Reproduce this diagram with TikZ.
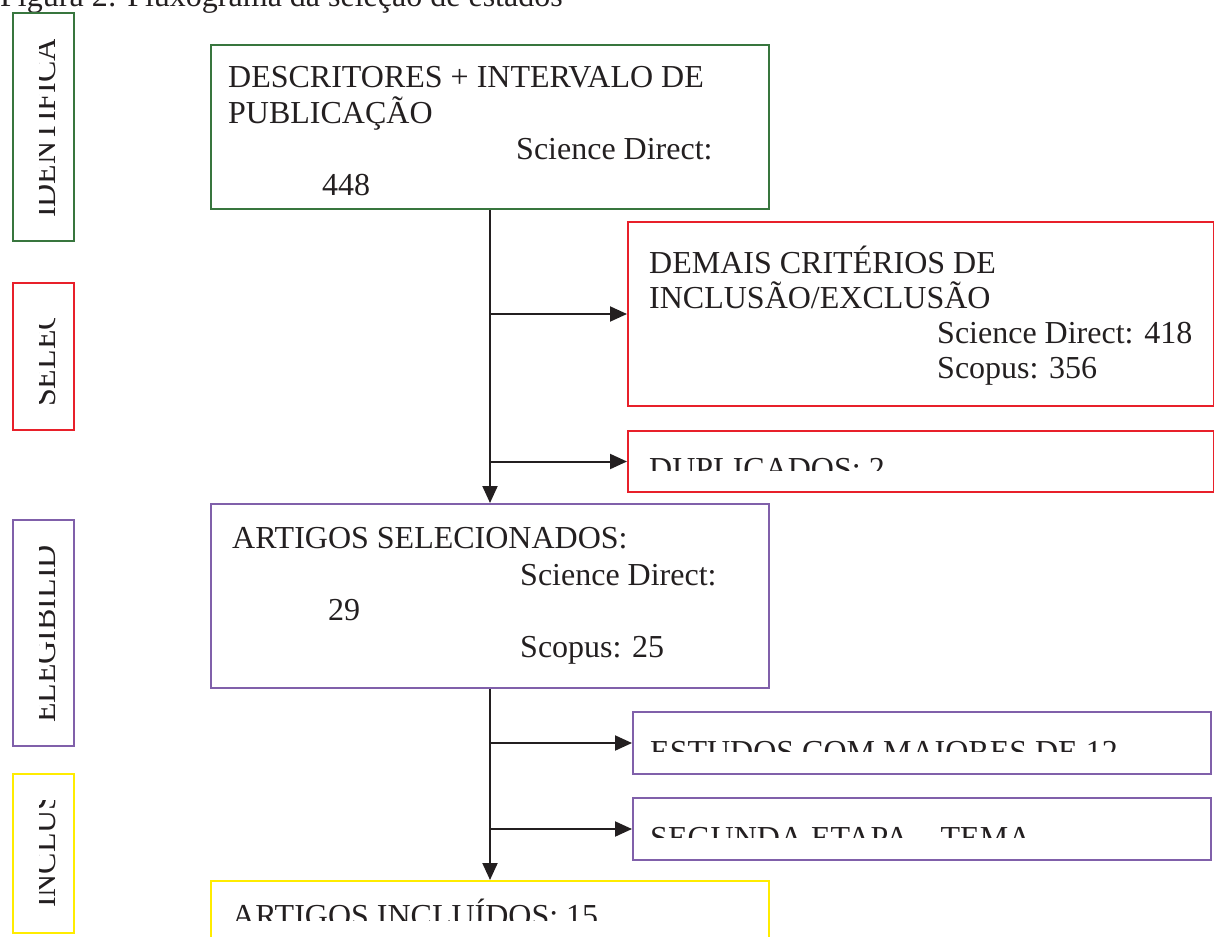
\documentclass[tikz,border=0pt]{standalone}
\usepackage{fontspec}
\setmainfont{Liberation Serif}
\usetikzlibrary{arrows.meta}
\definecolor{cgreen}{RGB}{56,118,62}
\definecolor{cred}{RGB}{232,32,42}
\definecolor{cpurple}{RGB}{128,96,170}
\definecolor{cyellow}{RGB}{255,236,0}
\definecolor{ink}{RGB}{35,31,32}
\begin{document}
\begin{tikzpicture}[x=1pt,y=-1pt,
  box/.style={draw, line width=2pt, inner sep=0pt, anchor=north west},
  txt/.style={inner sep=0pt, font=\fontsize{32}{38}\selectfont, text=ink},
  arr/.style={line width=2pt, draw=ink, -{Triangle[length=17pt,width=15pt]}}]
\clip (0,0) rectangle (1214,936);

% title
\node[txt, anchor=base west] (title) at (0,7) {Figura 2: Fluxograma da seleção de estados};

% left stage labels
\node[box, draw=cgreen, minimum width=61pt, minimum height=228pt] (lid) at (12,12) {};
\node[box, draw=cred, minimum width=61pt, minimum height=147pt] (lsel) at (12,282) {};
\node[box, draw=cpurple, minimum width=61pt, minimum height=226pt] (lel) at (12,519) {};
\node[box, draw=cyellow, minimum width=61pt, minimum height=159pt] (lin) at (12,773) {};
\begin{scope}
  \clip (39,40) rectangle (73,240);
  \node[txt, rotate=90, anchor=base west] (tid) at (55,218) {IDENTIFICA};
\end{scope}
\begin{scope}
  \clip (39,318) rectangle (73,429);
  \node[txt, rotate=90, anchor=base west] (tsel) at (55,407) {SELEC};
\end{scope}
\begin{scope}
  \clip (39,540) rectangle (73,745);
  \node[txt, rotate=90, anchor=base west] (tel) at (55,723) {ELEGIBILID};
\end{scope}
\begin{scope}
  \clip (39,800) rectangle (73,932);
  \node[txt, rotate=90, anchor=base west] (tin) at (55,908) {INCLUS};
\end{scope}

% main boxes
\node[box, draw=cgreen, minimum width=558pt, minimum height=164pt] (g) at (210,44) {};
\node[box, draw=cred, minimum width=586pt, minimum height=184pt] (r1) at (627,221) {};
\node[box, draw=cred, minimum width=586pt, minimum height=61pt] (r2) at (627,430) {};
\node[box, draw=cpurple, minimum width=558pt, minimum height=184pt] (p) at (210,503) {};
\node[box, draw=cpurple, minimum width=578pt, minimum height=62pt] (p2) at (632,711) {};
\node[box, draw=cpurple, minimum width=578pt, minimum height=62pt] (p3) at (632,797) {};
\node[box, draw=cyellow, minimum width=558pt, minimum height=120pt] (yb) at (210,880) {};

% texts
\node[txt, anchor=base west] (g1) at (228,88) {DESCRITORES + INTERVALO DE};
\node[txt, anchor=base west] (g2) at (228,124) {PUBLICAÇÃO};
\node[txt, anchor=base west] (g3) at (516,160) {Science Direct:};
\node[txt, anchor=base west] (g4) at (322,196) {448};

\node[txt, anchor=base west] (r11) at (649,273) {DEMAIS CRITÉRIOS DE};
\node[txt, anchor=base west] (r12) at (649,308) {INCLUSÃO/EXCLUSÃO};
\node[txt, anchor=base west] (r13) at (937,343) {Science Direct: 418};
\node[txt, anchor=base west] (r14) at (937,378) {Scopus: 356};

\begin{scope}
  \clip (630,433) rectangle (1210,470);
  \node[txt, anchor=base west] (r21) at (649,479) {DUPLICADOS: 2};
\end{scope}

\node[txt, anchor=base west] (p1) at (232,548) {ARTIGOS SELECIONADOS:};
\node[txt, anchor=base west] (p12) at (520,585) {Science Direct:};
\node[txt, anchor=base west] (p13) at (328,620) {29};
\begin{scope}
  \clip (213,506) rectangle (765,664);
  \node[txt, anchor=base west] (p14) at (520,657) {Scopus: 25};
\end{scope}

\begin{scope}
  \clip (635,714) rectangle (1207,751);
  \node[txt, anchor=base west] (p21) at (650,762) {ESTUDOS COM MAIORES DE 12};
\end{scope}
\begin{scope}
  \clip (635,800) rectangle (1207,837);
  \node[txt, anchor=base west] (p31) at (650,848) {SEGUNDA ETAPA – TEMA};
\end{scope}
\begin{scope}
  \clip (213,883) rectangle (765,920);
  \node[txt, anchor=base west] (y1) at (232,926) {ARTIGOS INCLUÍDOS: 15};
\end{scope}

% connectors
\draw[arr] (g.south) -- (p.north);
\draw[arr] (g.south |- r1.west) -- (r1.west);
\draw[arr] (g.south |- r2.west) -- (r2.west);
\draw[arr] (p.south) -- (yb.north);
\draw[arr] (p.south |- p2.west) -- (p2.west);
\draw[arr] (p.south |- p3.west) -- (p3.west);
\end{tikzpicture}
\end{document}
